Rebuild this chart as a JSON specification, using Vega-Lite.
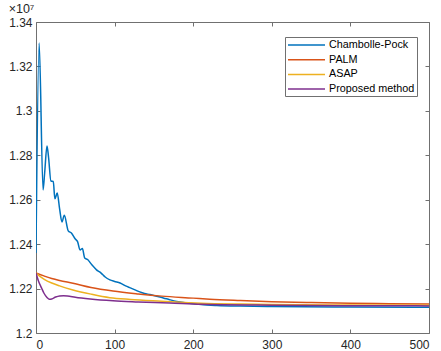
{
  "$schema": "https://vega.github.io/schema/vega-lite/v6.json",
  "autosize": {"type": "none"},
  "padding": {"left": 36, "top": 22, "right": 12, "bottom": 18},
  "width": 393,
  "height": 311,
  "background": "white",
  "title": {"text": "×10⁷", "anchor": "start", "fontSize": 12.5, "font": "Liberation Sans", "fontWeight": "normal", "color": "#262626", "offset": 1},
  "config": {
    "view": {"stroke": "#707070", "strokeWidth": 1},
    "font": "Liberation Sans",
    "axis": {"grid": false, "domain": false, "tickColor": "#707070", "tickSize": -4, "labelFont": "Liberation Sans", "labelFontSize": 12, "labelColor": "#262626", "title": null}
  },
  "data": {"values": [
    {"method": "Chambolle-Pock", "iter": 0, "value": 12360000},
    {"method": "Chambolle-Pock", "iter": 4, "value": 13305000},
    {"method": "Chambolle-Pock", "iter": 9, "value": 12644000},
    {"method": "Chambolle-Pock", "iter": 11, "value": 12720000},
    {"method": "Chambolle-Pock", "iter": 14, "value": 12842000},
    {"method": "Chambolle-Pock", "iter": 16, "value": 12790000},
    {"method": "Chambolle-Pock", "iter": 19, "value": 12684000},
    {"method": "Chambolle-Pock", "iter": 22, "value": 12682000},
    {"method": "Chambolle-Pock", "iter": 24, "value": 12604000},
    {"method": "Chambolle-Pock", "iter": 27, "value": 12630000},
    {"method": "Chambolle-Pock", "iter": 30, "value": 12560000},
    {"method": "Chambolle-Pock", "iter": 33, "value": 12500000},
    {"method": "Chambolle-Pock", "iter": 36, "value": 12530000},
    {"method": "Chambolle-Pock", "iter": 41, "value": 12460000},
    {"method": "Chambolle-Pock", "iter": 45, "value": 12450000},
    {"method": "Chambolle-Pock", "iter": 50, "value": 12423000},
    {"method": "Chambolle-Pock", "iter": 53, "value": 12410000},
    {"method": "Chambolle-Pock", "iter": 56, "value": 12374000},
    {"method": "Chambolle-Pock", "iter": 59, "value": 12380000},
    {"method": "Chambolle-Pock", "iter": 62, "value": 12338000},
    {"method": "Chambolle-Pock", "iter": 66, "value": 12330000},
    {"method": "Chambolle-Pock", "iter": 71, "value": 12307000},
    {"method": "Chambolle-Pock", "iter": 75, "value": 12292000},
    {"method": "Chambolle-Pock", "iter": 77, "value": 12284000},
    {"method": "Chambolle-Pock", "iter": 81, "value": 12275000},
    {"method": "Chambolle-Pock", "iter": 85, "value": 12262000},
    {"method": "Chambolle-Pock", "iter": 88, "value": 12252000},
    {"method": "Chambolle-Pock", "iter": 94, "value": 12239000},
    {"method": "Chambolle-Pock", "iter": 100, "value": 12232000},
    {"method": "Chambolle-Pock", "iter": 107, "value": 12225000},
    {"method": "Chambolle-Pock", "iter": 114, "value": 12212000},
    {"method": "Chambolle-Pock", "iter": 120, "value": 12203000},
    {"method": "Chambolle-Pock", "iter": 126, "value": 12194000},
    {"method": "Chambolle-Pock", "iter": 132, "value": 12185000},
    {"method": "Chambolle-Pock", "iter": 138, "value": 12178000},
    {"method": "Chambolle-Pock", "iter": 145, "value": 12173000},
    {"method": "Chambolle-Pock", "iter": 155, "value": 12164000},
    {"method": "Chambolle-Pock", "iter": 162, "value": 12158000},
    {"method": "Chambolle-Pock", "iter": 170, "value": 12150000},
    {"method": "Chambolle-Pock", "iter": 179, "value": 12142000},
    {"method": "Chambolle-Pock", "iter": 192, "value": 12135000},
    {"method": "Chambolle-Pock", "iter": 210, "value": 12128000},
    {"method": "Chambolle-Pock", "iter": 230, "value": 12124000},
    {"method": "Chambolle-Pock", "iter": 260, "value": 12121000},
    {"method": "Chambolle-Pock", "iter": 300, "value": 12119000},
    {"method": "Chambolle-Pock", "iter": 400, "value": 12117000},
    {"method": "Chambolle-Pock", "iter": 500, "value": 12116000},
    {"method": "PALM", "iter": 0, "value": 12270000},
    {"method": "PALM", "iter": 10, "value": 12257000},
    {"method": "PALM", "iter": 20, "value": 12245000},
    {"method": "PALM", "iter": 30, "value": 12236000},
    {"method": "PALM", "iter": 47, "value": 12224000},
    {"method": "PALM", "iter": 70, "value": 12205000},
    {"method": "PALM", "iter": 98, "value": 12189000},
    {"method": "PALM", "iter": 130, "value": 12176000},
    {"method": "PALM", "iter": 160, "value": 12166000},
    {"method": "PALM", "iter": 200, "value": 12157000},
    {"method": "PALM", "iter": 221, "value": 12152000},
    {"method": "PALM", "iter": 260, "value": 12146000},
    {"method": "PALM", "iter": 300, "value": 12141000},
    {"method": "PALM", "iter": 350, "value": 12137000},
    {"method": "PALM", "iter": 400, "value": 12134000},
    {"method": "PALM", "iter": 450, "value": 12132000},
    {"method": "PALM", "iter": 500, "value": 12130000},
    {"method": "ASAP", "iter": 0, "value": 12270000},
    {"method": "ASAP", "iter": 5, "value": 12255000},
    {"method": "ASAP", "iter": 10, "value": 12243000},
    {"method": "ASAP", "iter": 20, "value": 12225000},
    {"method": "ASAP", "iter": 30, "value": 12212000},
    {"method": "ASAP", "iter": 47, "value": 12194000},
    {"method": "ASAP", "iter": 70, "value": 12175000},
    {"method": "ASAP", "iter": 94, "value": 12159000},
    {"method": "ASAP", "iter": 120, "value": 12151000},
    {"method": "ASAP", "iter": 160, "value": 12143000},
    {"method": "ASAP", "iter": 210, "value": 12134000},
    {"method": "ASAP", "iter": 260, "value": 12130000},
    {"method": "ASAP", "iter": 300, "value": 12128000},
    {"method": "ASAP", "iter": 400, "value": 12126000},
    {"method": "ASAP", "iter": 500, "value": 12125000},
    {"method": "Proposed method", "iter": 0, "value": 12270000},
    {"method": "Proposed method", "iter": 3, "value": 12235000},
    {"method": "Proposed method", "iter": 7, "value": 12203000},
    {"method": "Proposed method", "iter": 10, "value": 12180000},
    {"method": "Proposed method", "iter": 14, "value": 12160000},
    {"method": "Proposed method", "iter": 17, "value": 12152000},
    {"method": "Proposed method", "iter": 20, "value": 12153000},
    {"method": "Proposed method", "iter": 25, "value": 12162000},
    {"method": "Proposed method", "iter": 30, "value": 12167000},
    {"method": "Proposed method", "iter": 35, "value": 12168000},
    {"method": "Proposed method", "iter": 40, "value": 12167000},
    {"method": "Proposed method", "iter": 50, "value": 12161000},
    {"method": "Proposed method", "iter": 69, "value": 12153000},
    {"method": "Proposed method", "iter": 98, "value": 12145000},
    {"method": "Proposed method", "iter": 130, "value": 12140000},
    {"method": "Proposed method", "iter": 170, "value": 12135000},
    {"method": "Proposed method", "iter": 210, "value": 12129000},
    {"method": "Proposed method", "iter": 300, "value": 12125000},
    {"method": "Proposed method", "iter": 400, "value": 12123000},
    {"method": "Proposed method", "iter": 500, "value": 12122000}
  ]},
  "layer": [
    {
      "mark": {"type": "line", "strokeWidth": 1.5, "interpolate": "monotone", "clip": true},
      "encoding": {
        "x": {"field": "iter", "type": "quantitative", "scale": {"domain": [0, 500], "nice": false},
              "axis": {"values": [0, 100, 200, 300, 400, 500], "labelPadding": 10}},
        "y": {"field": "value", "type": "quantitative", "scale": {"domain": [12000000, 13400000], "nice": false, "zero": false},
              "axis": {"values": [12000000, 12200000, 12400000, 12600000, 12800000, 13000000, 13200000, 13400000], "labelExpr": "format(datum.value / 10000000, '~g')", "labelPadding": 8}},
        "color": {"field": "method", "type": "nominal",
          "scale": {"domain": ["Chambolle-Pock", "PALM", "ASAP", "Proposed method"], "range": ["#0072BD", "#D95319", "#EDB120", "#7E2F8E"]},
          "sort": ["Chambolle-Pock", "PALM", "ASAP", "Proposed method"],
          "legend": {"title": null, "orient": "none", "legendX": 249, "legendY": 15, "symbolType": "M-1,0H6.4", "symbolSize": 100, "symbolStrokeWidth": 1.5, "labelFontSize": 10.8, "labelFont": "Liberation Sans", "labelColor": "#000000", "labelOffset": 30, "strokeColor": "#707070", "fillColor": "white", "padding": 2, "rowPadding": 3.7}
        }
      }
    },
    {
      "mark": {"type": "rule", "opacity": 0},
      "encoding": {
        "x": {"field": "iter", "type": "quantitative", "scale": {"domain": [0, 500], "nice": false}, "axis": {"orient": "top", "labels": false, "values": [0, 100, 200, 300, 400, 500]}},
        "y": {"field": "value", "type": "quantitative", "scale": {"domain": [12000000, 13400000], "nice": false, "zero": false}, "axis": {"orient": "right", "labels": false, "values": [12000000, 12200000, 12400000, 12600000, 12800000, 13000000, 13200000, 13400000]}}
      }
    }
  ],
  "resolve": {"axis": {"x": "independent", "y": "independent"}}
}
